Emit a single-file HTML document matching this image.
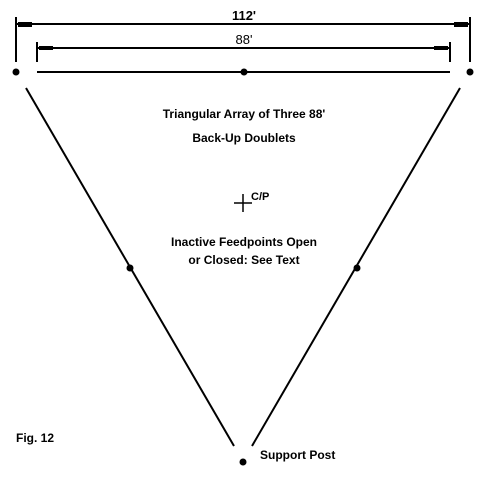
<!DOCTYPE html>
<html><head><style>body{margin:0;background:#fff}</style></head><body>
<svg width="487" height="474" xmlns="http://www.w3.org/2000/svg" font-family="Liberation Sans, sans-serif" font-size="12" font-weight="bold" fill="#000">
<g stroke="#000" stroke-width="2">
<line x1="16" y1="17" x2="16" y2="62"/><line x1="470" y1="17" x2="470" y2="62"/>
<line x1="16" y1="24" x2="470" y2="24"/>
<line x1="37" y1="42" x2="37" y2="62"/><line x1="450" y1="42" x2="450" y2="62"/>
<line x1="37" y1="48" x2="450" y2="48"/>
<line x1="37" y1="72" x2="450" y2="72"/>
<line x1="26" y1="88" x2="234" y2="446"/>
<line x1="460" y1="88" x2="252" y2="446"/>
<line x1="243" y1="194" x2="243" y2="212" stroke-width="1.5"/>
<line x1="234" y1="203" x2="252" y2="203" stroke-width="1.5"/>
</g>
<g stroke="none">
<rect x="18" y="22" width="14" height="5"/><rect x="454" y="22" width="14" height="5"/>
<rect x="39" y="46" width="14" height="4"/><rect x="434" y="46" width="14" height="4"/>
<circle cx="16" cy="72" r="3.5"/><circle cx="470" cy="72" r="3.5"/><circle cx="244" cy="72" r="3.5"/>
<circle cx="130" cy="268" r="3.5"/><circle cx="357" cy="268" r="3.5"/><circle cx="243" cy="462" r="3.5"/>
</g>
<text x="244" y="20" text-anchor="middle" font-size="13">112'</text>
<text x="244" y="44" text-anchor="middle" font-size="13" font-weight="normal">88'</text>
<text x="244" y="118" text-anchor="middle">Triangular Array of Three 88'</text>
<text x="244" y="142" text-anchor="middle">Back-Up Doublets</text>
<text x="251" y="200" font-size="11">C/P</text>
<text x="244" y="246" text-anchor="middle">Inactive Feedpoints Open</text>
<text x="244" y="264" text-anchor="middle">or Closed:  See Text</text>
<text x="16" y="442">Fig. 12</text>
<text x="260" y="459">Support Post</text>
</svg>
</body></html>
